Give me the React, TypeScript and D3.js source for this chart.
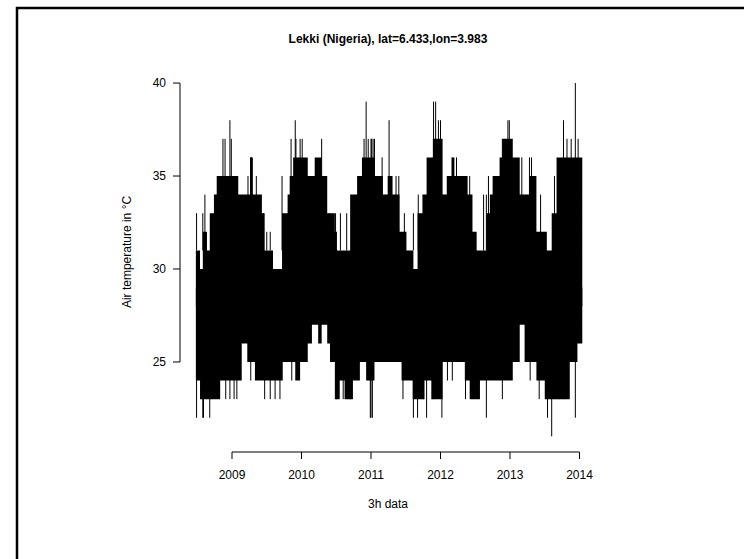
import * as d3 from "d3";

// 3-hourly air temperature, Lekki (Nigeria) — envelope
// upper envelope: [decimal year, max °C] step levels
const upperSteps: [number, number][] = [
  [2008.48, 31], [2008.54, 30], [2008.58, 32], [2008.64, 31], [2008.68, 33],
  [2008.74, 34], [2008.78, 35], [2009.09, 34], [2009.26, 36], [2009.30, 34],
  [2009.43, 33], [2009.47, 31], [2009.59, 30], [2009.72, 33], [2009.80, 34],
  [2009.83, 35], [2009.88, 36], [2010.09, 35], [2010.19, 36], [2010.29, 35],
  [2010.37, 33], [2010.48, 32], [2010.51, 31], [2010.70, 34], [2010.80, 35],
  [2010.87, 36], [2011.05, 35], [2011.17, 34], [2011.24, 35], [2011.31, 34],
  [2011.41, 32], [2011.51, 31], [2011.61, 30], [2011.67, 33], [2011.74, 34],
  [2011.80, 36], [2011.89, 37], [2012.03, 34], [2012.09, 35], [2012.16, 36],
  [2012.20, 35], [2012.39, 34], [2012.46, 32], [2012.52, 31], [2012.66, 33],
  [2012.71, 34], [2012.75, 35], [2012.85, 36], [2012.89, 37], [2013.04, 36],
  [2013.14, 34], [2013.28, 35], [2013.38, 32], [2013.53, 31], [2013.60, 33],
  [2013.67, 36], [2014.04, 36],
];

// lower envelope: [decimal year, min °C] step levels
const lowerSteps: [number, number][] = [
  [2008.48, 24], [2008.54, 23], [2008.83, 24], [2009.14, 26], [2009.22, 25],
  [2009.33, 24], [2009.73, 25], [2009.91, 24], [2009.98, 25], [2010.09, 26],
  [2010.15, 27], [2010.24, 26], [2010.29, 27], [2010.37, 26], [2010.41, 25],
  [2010.48, 23], [2010.55, 24], [2010.62, 23], [2010.74, 24], [2010.84, 25],
  [2010.93, 24], [2011.05, 25], [2011.44, 24], [2011.60, 23], [2011.77, 24],
  [2011.87, 23], [2012.03, 25], [2012.35, 24], [2012.42, 23], [2012.56, 24],
  [2013.04, 25], [2013.14, 27], [2013.21, 25], [2013.38, 24], [2013.50, 23],
  [2013.86, 25], [2013.97, 26], [2014.04, 26],
];

// isolated hot readings: [decimal year, °C]
const hotSpikes: [number, number][] = [
  [2008.49, 33], [2008.58, 33], [2008.61, 34], [2008.87, 37], [2008.90, 37],
  [2008.97, 38], [2008.99, 37], [2009.23, 35], [2009.27, 36], [2009.28, 36],
  [2009.35, 35], [2009.45, 33], [2009.50, 32], [2009.55, 32], [2009.72, 35],
  [2009.85, 37], [2009.91, 38], [2009.92, 37], [2009.98, 37], [2010.01, 37],
  [2010.11, 35], [2010.29, 37], [2010.40, 33], [2010.49, 33], [2010.56, 33],
  [2010.65, 33], [2010.90, 37], [2010.93, 39], [2010.96, 37], [2011.00, 37],
  [2011.01, 37], [2011.03, 37], [2011.05, 37], [2011.16, 36], [2011.26, 38],
  [2011.36, 35], [2011.40, 35], [2011.48, 33], [2011.61, 33], [2011.68, 34],
  [2011.90, 39], [2011.93, 39], [2011.97, 38], [2012.00, 38], [2012.17, 36],
  [2012.23, 36], [2012.36, 35], [2012.42, 35], [2012.62, 34], [2012.66, 34],
  [2012.69, 35], [2012.89, 37], [2012.97, 38], [2012.99, 38], [2013.17, 36],
  [2013.28, 36], [2013.31, 36], [2013.44, 34], [2013.64, 35], [2013.77, 38],
  [2013.82, 37], [2013.88, 37], [2013.94, 40], [2013.98, 37],
];

// isolated cool readings: [decimal year, °C]
const coolSpikes: [number, number][] = [
  [2008.49, 22], [2008.58, 22], [2008.59, 22], [2008.68, 22], [2008.91, 23],
  [2008.97, 23], [2009.03, 23], [2009.07, 23], [2009.27, 24], [2009.47, 23],
  [2009.55, 23], [2009.62, 23], [2009.69, 23], [2009.86, 24], [2010.51, 23],
  [2010.60, 23], [2010.70, 23], [2010.99, 22], [2011.00, 22], [2011.02, 22],
  [2011.46, 23], [2011.61, 22], [2011.67, 22], [2011.75, 23], [2011.80, 22],
  [2011.88, 23], [2012.02, 22], [2012.10, 24], [2012.17, 24], [2012.36, 23],
  [2012.56, 23], [2012.66, 22], [2012.89, 23], [2013.29, 24], [2013.42, 23],
  [2013.54, 22], [2013.60, 21], [2013.65, 23], [2013.71, 23], [2013.77, 23],
  [2013.94, 22],
];

const yearTicks = [2009, 2010, 2011, 2012, 2013, 2014];
const tempTicks = [25, 30, 35, 40];

const W = 744;
const H = 559;
const FONT = "'Liberation Sans', Arial, Helvetica, sans-serif";

export default function App() {
  const x = d3.scaleLinear().domain([2009, 2014]).range([232, 579.5]);
  const y = d3.scaleLinear().domain([20.24, 40.76]).range([450.5, 68.9]);

  // upper half of the band: from 28 °C up to the daily maxima
  const upperArea = d3
    .area<[number, number]>()
    .x((d) => x(d[0]))
    .y0(y(28))
    .y1((d) => y(d[1]))
    .curve(d3.curveStepAfter);

  // lower half: from the daily minima up to 29 °C
  const lowerArea = d3
    .area<[number, number]>()
    .x((d) => x(d[0]))
    .y0((d) => y(d[1]))
    .y1(y(29))
    .curve(d3.curveStepAfter);

  return (
    <svg
      width={W}
      height={H}
      style={{ position: "absolute", left: 0, top: 0, background: "#fff" }}
      fontFamily={FONT}
    >
      <rect x={17} y={8} width={800} height={600} fill="none" stroke="#000" strokeWidth={2.5} />

      <text x={388} y={43} textAnchor="middle" fontSize={12} fontWeight="bold">
        Lekki (Nigeria), lat=6.433,lon=3.983
      </text>

      {/* series */}
      <path d={upperArea(upperSteps) ?? ""} fill="#000" />
      <path d={lowerArea(lowerSteps) ?? ""} fill="#000" />
      {hotSpikes.map(([t, v], i) => (
        <line key={"h" + i} x1={x(t)} x2={x(t)} y1={y(31)} y2={y(v)} stroke="#000" strokeWidth={1} />
      ))}
      {coolSpikes.map(([t, v], i) => (
        <line key={"c" + i} x1={x(t)} x2={x(t)} y1={y(26)} y2={y(v)} stroke="#000" strokeWidth={1} />
      ))}

      {/* y axis */}
      <line x1={180} x2={180} y1={y(40)} y2={y(25)} stroke="#000" />
      {tempTicks.map((t) => (
        <g key={t}>
          <line x1={173} x2={180} y1={y(t)} y2={y(t)} stroke="#000" />
          <text x={166} y={y(t) + 4} textAnchor="end" fontSize={12}>
            {t}
          </text>
        </g>
      ))}
      <text
        transform={`translate(131,252) rotate(-90)`}
        textAnchor="middle"
        fontSize={12}
      >
        Air temperature in °C
      </text>

      {/* x axis */}
      <line x1={x(2009)} x2={x(2014)} y1={452} y2={452} stroke="#000" />
      {yearTicks.map((t) => (
        <g key={t}>
          <line x1={x(t)} x2={x(t)} y1={452} y2={459} stroke="#000" />
          <text x={x(t)} y={479} textAnchor="middle" fontSize={12}>
            {t}
          </text>
        </g>
      ))}
      <text x={388} y={508} textAnchor="middle" fontSize={12}>
        3h data
      </text>
    </svg>
  );
}
